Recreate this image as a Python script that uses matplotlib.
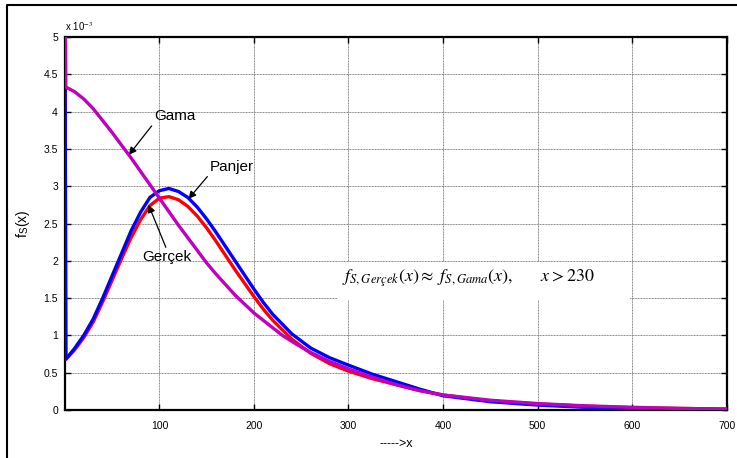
import matplotlib
matplotlib.use("Agg")
import matplotlib.pyplot as plt
from matplotlib.lines import Line2D
from matplotlib.patches import Rectangle
from matplotlib.ticker import FuncFormatter

plt.rcParams['font.family'] = ['Liberation Sans', 'DejaVu Sans']
plt.rcParams['mathtext.fontset'] = 'stix'

# densities, y in units of 1e-3
x_gama = [0, 1, 10, 20, 30, 40, 50, 60, 70, 80, 90, 100, 110, 120, 130, 140,
          150, 160, 170, 180, 190, 200, 215, 230, 245, 260, 280, 300, 325,
          350, 375, 400, 450, 500, 550, 600, 650, 700]
y_gama = [6.0, 4.33, 4.27, 4.17, 4.04, 3.88, 3.72, 3.55, 3.38, 3.2, 3.02,
          2.84, 2.66, 2.48, 2.31, 2.14, 1.97, 1.82, 1.68, 1.54, 1.42, 1.3,
          1.15, 1.0, 0.88, 0.77, 0.65, 0.55, 0.44, 0.34, 0.26, 0.2, 0.13,
          0.085, 0.055, 0.035, 0.02, 0.012]

x_panjer = [0, 1, 10, 20, 30, 40, 50, 60, 70, 80, 90, 100, 110, 120, 130, 140,
            150, 160, 170, 180, 190, 200, 210, 220, 240, 260, 280, 300, 325,
            350, 375, 400, 450, 500, 550, 600, 650, 700]
y_panjer = [6.0, 0.68, 0.82, 1.0, 1.22, 1.5, 1.8, 2.1, 2.4, 2.65, 2.85, 2.94,
            2.97, 2.93, 2.85, 2.72, 2.56, 2.38, 2.19, 2.0, 1.81, 1.62, 1.44,
            1.28, 1.02, 0.83, 0.7, 0.6, 0.48, 0.38, 0.28, 0.19, 0.11, 0.065,
            0.035, 0.02, 0.01, 0.005]

x_gercek = [0, 1, 10, 20, 30, 40, 50, 60, 70, 80, 90, 100, 110, 120, 130, 140,
            150, 160, 170, 180, 190, 200, 210, 220, 240, 260, 280, 300, 325,
            350, 375, 400, 450, 500, 550, 600, 650, 700]
y_gercek = [6.0, 0.68, 0.8, 0.97, 1.18, 1.45, 1.74, 2.03, 2.31, 2.55, 2.74,
            2.84, 2.86, 2.82, 2.73, 2.6, 2.44, 2.26, 2.07, 1.88, 1.7, 1.52,
            1.35, 1.2, 0.95, 0.76, 0.62, 0.52, 0.42, 0.34, 0.26, 0.2, 0.12,
            0.08, 0.05, 0.03, 0.02, 0.01]

x_ticks = [100, 200, 300, 400, 500, 600, 700]
y_ticks = [0, 0.5, 1, 1.5, 2, 2.5, 3, 3.5, 4, 4.5, 5]

fig = plt.figure(figsize=(7.37, 4.58), dpi=100)
ax = fig.add_axes([0.088, 0.105, 0.898, 0.814])

# outer frame (runs off the right and bottom edges)
fx, fy = 7 / 737, 1 - 5 / 458
fig.add_artist(Line2D([fx, fx, 1.0], [0.0, fy, fy], transform=fig.transFigure,
                      color='k', lw=1.5))

ax.set_axisbelow(True)
ax.grid(True, color='#808080', lw=0.7, linestyle=(0, (1, 0.6)))

ax.plot(x_gercek, y_gercek, color='#ff0000', lw=2.4, zorder=3)
ax.plot(x_panjer, y_panjer, color='#0000ff', lw=2.4, zorder=4)
ax.plot(x_gama, y_gama, color='#bf00bf', lw=2.4, zorder=5)

ax.set_xlim(0, 700)
ax.set_ylim(0, 5)
ax.set_xticks(x_ticks)
ax.set_yticks(y_ticks)
ax.yaxis.set_major_formatter(FuncFormatter(lambda v, p: '%g' % v))
ax.tick_params(direction='in', length=4, width=1, labelsize=7.5,
               top=True, right=True, pad=5)
ax.tick_params(axis='x', pad=8)
for s in ax.spines.values():
    s.set_linewidth(1.6)

ax.text(0.0, 1.012, r'x 10$^{-3}$', transform=ax.transAxes, fontsize=7,
        ha='left', va='bottom')
ax.set_xlabel('----->x', fontsize=9, labelpad=5)
ax.set_ylabel(r'f$_\mathregular{S}$(x)', fontsize=10, labelpad=8)

arrow = dict(arrowstyle='-|>', color='k', lw=0.9, mutation_scale=11,
             shrinkA=0, shrinkB=0)
ax.annotate('Gama', xy=(67.7, 3.42), xytext=(116, 3.94), fontsize=11,
            ha='center', va='center', zorder=6,
            arrowprops=dict(arrow, relpos=(0.0, 0.0)))
ax.annotate('Panjer', xy=(130.8, 2.83), xytext=(176.5, 3.26), fontsize=11,
            ha='center', va='center', zorder=6,
            arrowprops=dict(arrow, relpos=(0.0, 0.0)))
ax.annotate('Gerçek', xy=(88.5, 2.75), xytext=(108, 2.05), fontsize=11,
            ha='center', va='center', zorder=6,
            arrowprops=dict(arrow, relpos=(0.5, 1.0)))

# equation pasted on a white patch
ax.add_patch(Rectangle((288, 1.48), 310, 0.5, facecolor='white',
                       edgecolor='none', zorder=1.5))
ax.text(293, 1.77, r'$f_{S,Gerçek}(x) \approx\ f_{S,Gama}(x),\qquad x > 230$',
        fontsize=13, ha='left', va='center', zorder=6)

fig.savefig('out.png', dpi=100)
